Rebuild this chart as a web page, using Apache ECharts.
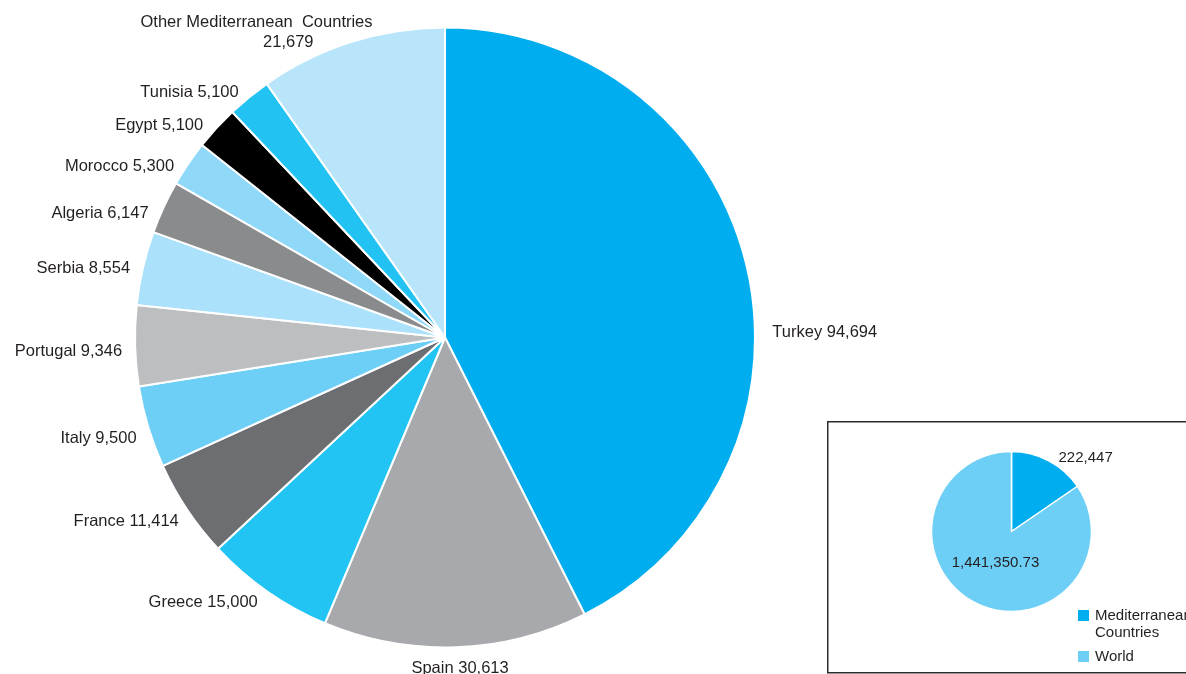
<!DOCTYPE html>
<html>
<head>
<meta charset="utf-8">
<script src="https://cdn.jsdelivr.net/npm/echarts@6/dist/echarts.min.js"></script>
<style>
html,body{margin:0;padding:0;background:#fff;}
#chart{width:1186px;height:674px;}
</style>
</head>
<body>
<div id="chart"></div>
<script>
// ---- data ----
const countries = ['Turkey','Spain','Greece','France','Italy','Portugal','Serbia','Algeria','Morocco','Egypt','Tunisia','Other Mediterranean Countries'];
const arrivals = [94694,30613,15000,11414,9500,9346,8554,6147,5300,5100,5100,21679];
const insetNames = ['Mediterranean Countries','World'];
const worldTotal = 1441350.73;

// ---- styles ----
const sliceColors = ['#00AEEF','#A7A9AC','#21C4F3','#6D6E71','#6DCFF6','#BCBEC0','#ABE1FA','#898B8D','#8FD8F8','#000000','#22C3F2','#B9E5FB'];
const insetColors = ['#00AEEF','#6DCFF6'];
const txt = '#231F20';
const font = 'Liberation Sans, Arial, sans-serif';
// label nudges (by category) relative to ECharts' default outside placement
const labelNudge = {
  'Turkey': {dx: 12, dy: 69},
  'Spain': {dx: 0, dy: 11, align: 'center'},
  'Greece': {dx: 0, dy: 3},
  'France': {dx: 4, dy: 6},
  'Italy': {dx: 2, dy: 9},
  'Portugal': {dx: 1, dy: 5},
  'Serbia': {dx: 1, dy: 3},
  'Algeria': {dx: -2, dy: 10},
  'Morocco': {dx: -2, dy: 8},
  'Egypt': {dx: -2, dy: 4},
  'Tunisia': {dx: 0, dy: 3},
  'Other Mediterranean Countries': {dx: 28, dy: 0}
};
const insetNudge = [{dx: 4, dy: 4}, {dx: 4, dy: -7}];

const fmt = v => v.toLocaleString('en-US', {maximumFractionDigits: 2});
const medTotal = arrivals.reduce((a, b) => a + b, 0);

const chart = echarts.init(document.getElementById('chart'), null, {renderer: 'canvas'});
chart.setOption({
  animation: false,
  backgroundColor: '#ffffff',
  graphic: [{
    type: 'rect', left: 827, top: 421, z: -1,
    shape: {width: 400, height: 251},
    style: {fill: '#fff', stroke: '#2b2b2b', lineWidth: 1.5}
  }],
  legend: {
    orient: 'vertical', left: 1071, top: 585,
    itemWidth: 13, itemHeight: 13, itemGap: 7,
    icon: 'rect', selectedMode: false,
    formatter: n => n === insetNames[0] ? ' \nMediterranean\nCountries' : n,
    textStyle: {fontSize: 15, color: txt, fontFamily: font, lineHeight: 17},
    data: insetNames
  },
  series: [{
    type: 'pie',
    center: [445, 337.5],
    radius: 310,
    startAngle: 90,
    clockwise: true,
    avoidLabelOverlap: false,
    itemStyle: {borderColor: '#fff', borderWidth: 2},
    label: {
      show: true, position: 'outside', color: txt, fontSize: 16.5, fontFamily: font,
      distanceToLabelLine: 4,
      formatter: p => p.name === 'Other Mediterranean Countries'
        ? 'Other Mediterranean  Countries\n{v|' + fmt(p.value) + '}'
        : p.name + ' ' + fmt(p.value),
      lineHeight: 20,
      rich: {v: {fontSize: 16.5, fontFamily: font, color: txt, lineHeight: 20, padding: [0, 59, 0, 0]}}
    },
    labelLine: {show: false, length: 10, length2: 0},
    labelLayout: p => labelNudge[countries[p.dataIndex]] || {},
    emphasis: {disabled: true},
    data: countries.map((c, i) => ({name: c, value: arrivals[i], itemStyle: {color: sliceColors[i]}}))
  }, {
    type: 'pie',
    center: [1011.5, 531.5],
    radius: 80,
    startAngle: 90,
    clockwise: true,
    avoidLabelOverlap: false,
    itemStyle: {borderColor: '#fff', borderWidth: 1.5},
    label: {show: true, color: txt, fontSize: 15, fontFamily: font, distanceToLabelLine: 2},
    labelLine: {show: false, length: 8, length2: 0},
    labelLayout: p => insetNudge[p.dataIndex],
    emphasis: {disabled: true},
    data: [
      {name: insetNames[0], value: medTotal, itemStyle: {color: insetColors[0]},
       label: {position: 'outside', formatter: () => fmt(medTotal)}},
      {name: insetNames[1], value: worldTotal - medTotal, itemStyle: {color: insetColors[1]},
       label: {position: 'inside', formatter: () => fmt(worldTotal)}}
    ]
  }]
});
</script>
</body>
</html>
